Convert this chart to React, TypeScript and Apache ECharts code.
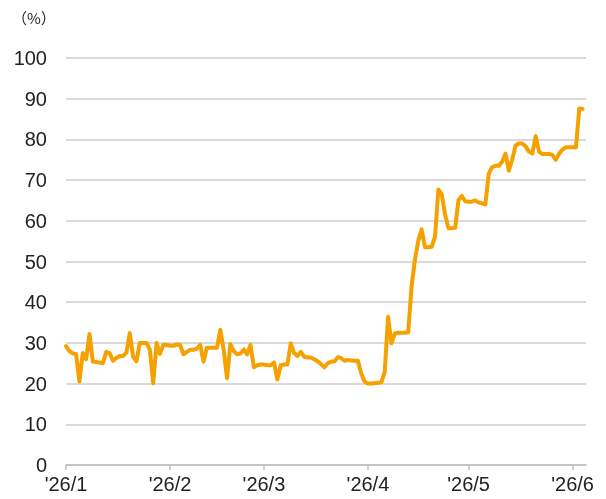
import React, { useEffect, useRef } from "react";
import * as echarts from "echarts";

// Daily values (%), 2026-01-01 .. 2026-06-04
const jan = [29.2, 28, 27.4, 27.3, 20.5, 27.5, 26, 32.2, 25.4, 25.3, 25.2, 25.0, 27.8, 27.5, 25.6, 26.3, 26.8, 26.8, 27.6, 32.4, 26.6, 25.5, 30, 30, 30, 28.3, 20.1, 30, 27.3, 29.5, 29.5];
const feb = [29.3, 29.3, 29.6, 29.5, 27.2, 27.8, 28.3, 28.3, 28.6, 29.5, 25.4, 28.8, 28.8, 28.8, 28.8, 33.2, 28.3, 21.3, 29.7, 28, 27.2, 27.4, 28.4, 27.2, 29.5, 24, 24.5, 24.7];
const mar = [24.7, 24.5, 24.5, 25.2, 21, 24.5, 24.7, 24.7, 29.9, 27.5, 26.8, 27.8, 26.6, 26.4, 26.4, 26, 25.5, 24.8, 24, 25, 25.4, 25.4, 26.5, 26.3, 25.6, 25.8, 25.7, 25.6, 25.6, 22.5, 20.5];
const apr = [20, 20, 20.1, 20.2, 20.3, 22.8, 36.4, 29.9, 32.3, 32.5, 32.5, 32.5, 32.6, 43.8, 50.4, 55, 57.9, 53.5, 53.5, 53.6, 56.1, 67.7, 66.5, 61.5, 58.2, 58.2, 58.3, 65.1, 66.1, 64.8];
const may = [64.7, 64.7, 65, 64.5, 64.3, 64, 71.5, 73.2, 73.5, 73.5, 74.5, 76.5, 72.3, 75, 78.5, 79, 79, 78.3, 77, 76.5, 80.8, 77, 76.4, 76.4, 76.4, 76.2, 75, 76.5, 77.5, 78.1, 78.1];
const jun = [78.1, 78, 87.6, 87.5];

const values = [...jan, ...feb, ...mar, ...apr, ...may, ...jun];

// Category days: Jan 1 .. Jun 5 (axis ends one day after last value)
const monthLengths = [31, 28, 31, 30, 31, 5];
const days: { m: number; d: number }[] = [];
monthLengths.forEach((len, mi) => {
  for (let d = 1; d <= len; d++) days.push({ m: mi + 1, d });
});
const categories = days.map((x) => `2026-${String(x.m).padStart(2, "0")}-${String(x.d).padStart(2, "0")}`);

const yTicks = { min: 0, max: 100, interval: 10 };
const FONT = "'Liberation Sans', Arial, Helvetica, sans-serif";

export default function App() {
  const ref = useRef<HTMLDivElement>(null);
  useEffect(() => {
    if (!ref.current) return;
    const chart = echarts.init(ref.current, null, { renderer: "svg" });
    const isMonthStart = (idx: number) => !!days[idx] && days[idx].d === 1;
    chart.setOption({
      animation: false,
      grid: { left: 66, right: 20, top: 58, bottom: 34, containLabel: false },
      graphic: [
        {
          type: "text",
          left: 12,
          top: 10,
          style: { text: "（%）", font: "15px 'Noto Sans CJK JP', sans-serif", fill: "#222" },
        },
      ],
      xAxis: {
        type: "category",
        data: categories,
        boundaryGap: false,
        axisLine: { show: true, lineStyle: { color: "#bfbfbf", width: 1.5 } },
        axisTick: {
          show: true,
          length: 5,
          interval: (idx: number) => isMonthStart(idx),
          lineStyle: { color: "#bfbfbf", width: 1.5 },
        },
        axisLabel: {
          interval: (idx: number) => isMonthStart(idx),
          formatter: (v: string) => {
            const [y, m] = v.split("-");
            return `'${y.slice(2)}/${parseInt(m, 10)}`;
          },
          color: "#222",
          fontSize: 20,
          fontFamily: FONT,
          margin: 9,
          hideOverlap: false,
        },
        splitLine: { show: false },
      },
      yAxis: {
        type: "value",
        min: yTicks.min,
        max: yTicks.max,
        interval: yTicks.interval,
        axisLine: { show: false },
        axisTick: { show: false },
        axisLabel: { color: "#222", fontSize: 20, fontFamily: FONT, margin: 19 },
        splitLine: { lineStyle: { color: "#cccccc", width: 1.5 } },
      },
      series: [
        {
          type: "line",
          data: values,
          showSymbol: false,
          symbol: "none",
          lineStyle: { color: "#F5A100", width: 4, join: "round", cap: "round" },
        },
      ],
    });
    return () => chart.dispose();
  }, []);
  return <div ref={ref} style={{ position: "fixed", left: 0, top: 0, width: 606, height: 499 }} />;
}
